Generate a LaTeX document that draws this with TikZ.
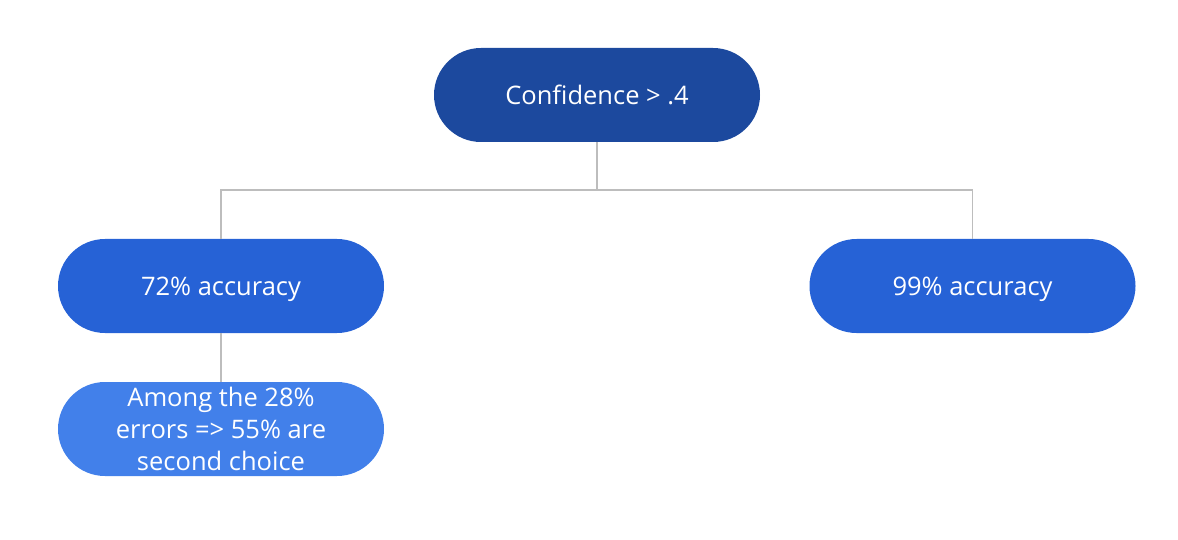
\documentclass[tikz,border=0pt]{standalone}
\usepackage{fontspec}
\setmainfont{Open Sans}
\definecolor{topblue}{RGB}{28,73,158}
\definecolor{midblue}{RGB}{38,98,214}
\definecolor{lowblue}{RGB}{66,128,234}
\definecolor{linegray}{RGB}{189,189,189}
\begin{document}
\begin{tikzpicture}[x=1pt,y=-1pt,
  pill/.style={minimum width=326pt,minimum height=94pt,rounded corners=47pt,
    inner sep=0pt,text=white,font=\fontsize{25.5}{32}\selectfont,align=center},
  single/.style={text depth=0pt},
  conn/.style={draw=linegray,line width=1.6pt}]
\useasboundingbox (0,0) rectangle (1178,540);
\node[pill,single,fill=topblue] (top) at (597,95) {Confidence > .4};
\node[pill,single,fill=midblue] (left) at (221,286) {72\% accuracy};
\node[pill,single,fill=midblue] (right) at (972.5,286) {99\% accuracy};
\node[pill,fill=lowblue] (low) at (221,429) {Among the 28\%\\errors => 55\% are\\second choice};
\coordinate (j) at (597,190);
\draw[conn] (top.south) -- (j) -| (left.north);
\draw[conn] (j) -| (right.north);
\draw[conn] (left.south) -- (low.north);
\end{tikzpicture}
\end{document}
